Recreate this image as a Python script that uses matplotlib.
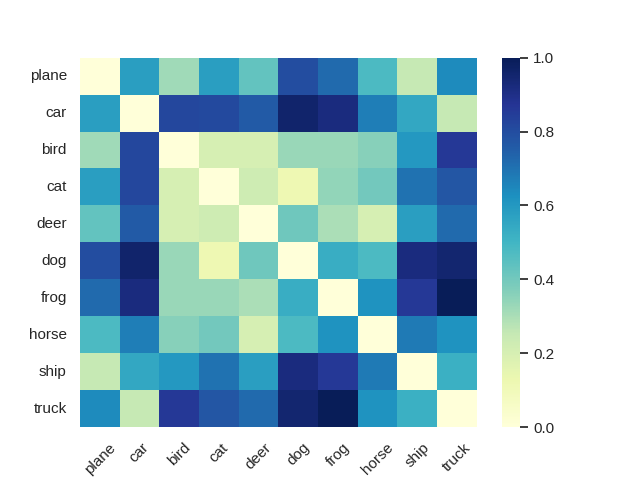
import numpy as np
import pandas as pd
import seaborn as sns
import matplotlib
matplotlib.use("Agg")
import matplotlib.pyplot as plt

classes = ['plane', 'car', 'bird', 'cat', 'deer', 'dog', 'frog', 'horse', 'ship', 'truck']

# pairwise distances between classes
plane = [0.00, 0.58, 0.32, 0.58, 0.43, 0.80, 0.72, 0.48, 0.25, 0.64]
car   = [0.58, 0.00, 0.82, 0.81, 0.76, 0.96, 0.92, 0.67, 0.55, 0.25]
bird  = [0.32, 0.82, 0.00, 0.20, 0.20, 0.33, 0.33, 0.36, 0.60, 0.86]
cat   = [0.58, 0.82, 0.20, 0.00, 0.23, 0.12, 0.34, 0.40, 0.70, 0.77]
deer  = [0.43, 0.76, 0.20, 0.23, 0.00, 0.41, 0.30, 0.20, 0.58, 0.72]
dog   = [0.80, 0.96, 0.33, 0.12, 0.41, 0.00, 0.53, 0.48, 0.92, 0.95]
frog  = [0.72, 0.92, 0.33, 0.33, 0.30, 0.53, 0.00, 0.62, 0.86, 1.00]
horse = [0.48, 0.67, 0.36, 0.40, 0.20, 0.48, 0.62, 0.00, 0.68, 0.62]
ship  = [0.25, 0.55, 0.60, 0.70, 0.58, 0.92, 0.86, 0.68, 0.00, 0.52]
truck = [0.64, 0.25, 0.86, 0.77, 0.72, 0.95, 1.00, 0.62, 0.52, 0.00]

dist = pd.DataFrame([plane, car, bird, cat, deer, dog, frog, horse, ship, truck],
                    index=classes, columns=classes)

sns.set_theme(style="white")
plt.rcParams['font.family'] = ['Liberation Sans', 'DejaVu Sans']

fig, ax = plt.subplots(figsize=(6.4, 4.8), dpi=100)
sns.heatmap(dist, cmap="YlGnBu", vmin=0, vmax=1, ax=ax)
plt.xticks(rotation=45)
plt.yticks(rotation=0)
plt.savefig("out.png")
